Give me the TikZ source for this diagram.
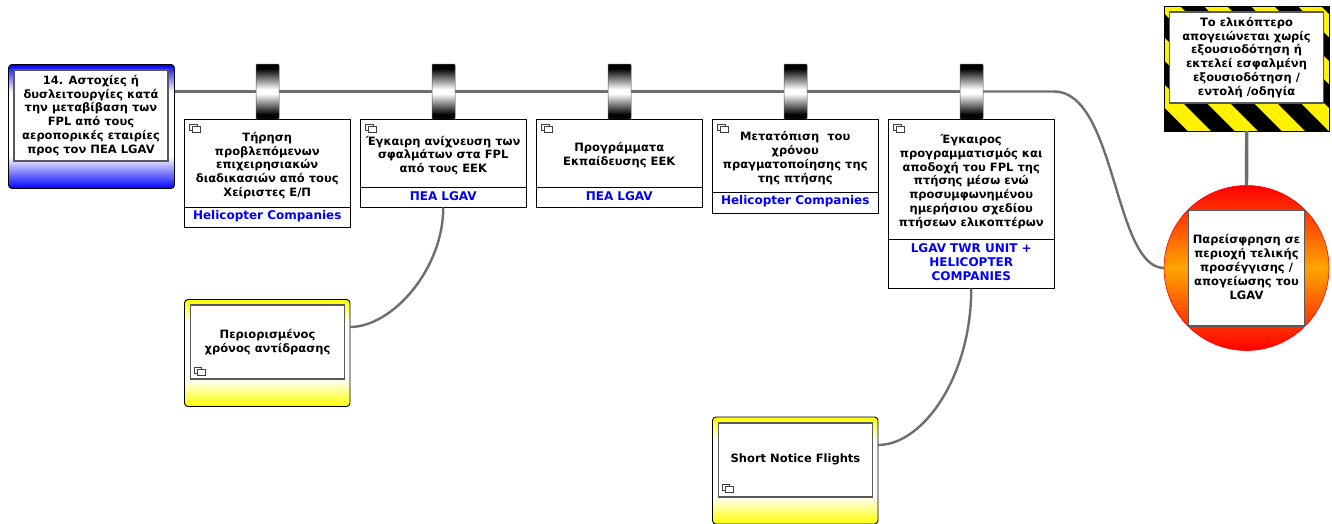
\documentclass[tikz,border=0pt]{standalone}
\usepackage{fontspec}
\setmainfont{DejaVu Sans}[BoldFont={DejaVu Sans Bold}]
\pgfdeclareverticalshading{bandblue}{100bp}{color(0bp)=(blue); color(25bp)=(blue); color(38bp)=(white); color(64bp)=(white); color(75bp)=(blue); color(100bp)=(blue)}
\pgfdeclareverticalshading{bandyellow}{100bp}{color(0bp)=(yellow); color(25bp)=(yellow); color(38bp)=(white); color(64bp)=(white); color(75bp)=(yellow); color(100bp)=(yellow)}
\pgfdeclareverticalshading{bandbar}{100bp}{color(0bp)=(black); color(29bp)=(black); color(48bp)=(white); color(52bp)=(white); color(71bp)=(black); color(100bp)=(black)}
\definecolor{linegray}{RGB}{110,110,110}
\definecolor{midorange}{RGB}{255,165,0}
\tikzset{
  x=1pt,y=-1pt,
  every node/.style={font=\fontsize{11.5}{13.9}\selectfont\bfseries,inner sep=0pt,outer sep=0pt},
  txt/.style={align=center,text=black},
  ownertxt/.style={align=center,text=blue,font=\fontsize{12}{13.9}\selectfont\bfseries},
  whitebox/.style={draw=black!65,line width=1.3pt,fill=white,anchor=north west},
  taskbox/.style={draw=black,line width=0.9pt,fill=white,anchor=north west,minimum width=165.5pt},
  outerbox/.style={draw=black,line width=0.9pt,rounded corners=3.5pt,anchor=north west,minimum width=165.5pt},
  barrier/.style={draw=black!70,line width=0.5pt,rounded corners=1pt,shading=bandbar,minimum width=23pt,minimum height=55pt,anchor=north west},
  conn/.style={draw=linegray,line width=2.4pt},
  subicon/.pic={\draw[black!75,line width=0.7pt,fill=white] (0,0) rectangle (7.5,6);\draw[black!75,line width=0.7pt,fill=white] (3,2.5) rectangle (11,8.5);}
}
\newcommand{\tasknode}[8]{% name x y bodyH ownerH textshift body owner
  \node[taskbox,minimum height=#4pt] (#1) at (#2,#3) {};
  \node[taskbox,minimum height=#5pt] (#1own) at (#1.south west) {};
  \node[txt] (#1txt) at ([yshift=-#6pt]#1.center) {#7};
  \node[ownertxt] (#1owntxt) at ([yshift=1.5pt]#1own.center) {#8};
  \pic at ([shift={(5,5)}]#1.north west) {subicon};
}
\begin{document}
\begin{tikzpicture}
\useasboundingbox (0,0) rectangle (1332,523);

% threat
\node[outerbox,shading=bandblue,minimum height=124pt,minimum width=166pt] (threat) at (8.5,64.5) {};
\node[whitebox,minimum width=154pt,minimum height=91pt] (threatin) at (14,70) {};
\node[txt] (threattxt) at (91,115.5) {14. Αστοχίες ή\\δυσλειτουργίες κατά\\την μεταβίβαση των\\FPL από τους\\αεροπορικές εταιρίες\\προς τον ΠΕΑ LGAV};

% barriers
\node[barrier] (bar1) at (256,64) {};
\node[barrier] (bar2) at (432,64) {};
\node[barrier] (bar3) at (608,64) {};
\node[barrier] (bar4) at (784,64) {};
\node[barrier] (bar5) at (960,64) {};

% tasks
\tasknode{task1}{184.5}{119}{88}{20.5}{2.5}{Τήρηση\\προβλεπόμενων\\επιχειρησιακών\\διαδικασιών από τους\\Χείριστες Ε/Π}{Helicopter Companies}
\tasknode{task2}{360.5}{119}{68}{20.5}{2.5}{Έγκαιρη ανίχνευση των\\σφαλμάτων στα FPL\\από τους ΕΕΚ}{ΠΕΑ LGAV}
\tasknode{task3}{536.5}{119}{68}{20.5}{2.5}{Προγράμματα\\Εκπαίδευσης ΕΕΚ}{ΠΕΑ LGAV}
\tasknode{task4}{712.5}{119}{73.5}{20.5}{2.5}{Μετατόπιση\ \ του\\χρόνου\\πραγματοποίησης της\\της πτήσης}{Helicopter Companies}
\tasknode{task5}{888.5}{119}{120}{49.5}{2.5}{Έγκαιρος\\προγραμματισμός και\\αποδοχή του FPL της\\πτήσης μέσω ενώ\\προσυμφωνημένου\\ημερήσιου σχεδίου\\πτήσεων ελικοπτέρων}{LGAV TWR UNIT +\\HELICOPTER\\COMPANIES}

% escalation factors
\node[outerbox,shading=bandyellow,minimum height=107pt] (esc1) at (184.5,299.5) {};
\node[whitebox,minimum width=154pt,minimum height=74pt] (esc1in) at (190.5,305) {};
\node[txt] (esc1txt) at (267.5,342) {Περιορισμένος\\χρόνος αντίδρασης};
\pic at (194,367) {subicon};

\node[outerbox,shading=bandyellow,minimum height=107pt] (esc2) at (712.5,417) {};
\node[whitebox,minimum width=154pt,minimum height=74pt] (esc2in) at (718.5,423) {};
\node[txt] (esc2txt) at (795.5,459.5) {Short Notice Flights};
\pic at (722,484) {subicon};

% hazard
\node[draw=black,line width=0.9pt,fill=yellow,anchor=north west,minimum width=165.5pt,minimum height=124.5pt] (hazard) at (1164,6.5) {};
\begin{scope}
  \clip (hazard.north west) rectangle (hazard.south east);
  \foreach \k in {-3,...,5}{
    \fill[black] ({1183+47*\k-110},-7) -- ({1206.5+47*\k-110},-7) -- ({1206.5+47*\k+40},143) -- ({1183+47*\k+40},143) -- cycle;
  }
\end{scope}
\draw[black,line width=0.9pt] (hazard.north west) rectangle (hazard.south east);
\node[whitebox,minimum width=154pt,minimum height=91pt] (hazardin) at (1169.5,12) {};
\node[txt] (hazardtxt) at (1246.5,57.5) {Το ελικόπτερο\\απογειώνεται χωρίς\\εξουσιοδότηση ή\\εκτελεί εσφαλμένη\\εξουσιοδότηση /\\εντολή /οδηγία};

% top event
\node[circle,draw=red,line width=0.6pt,top color=red,bottom color=red,middle color=midorange,minimum size=165pt] (top) at (1246.5,268) {};
\node[whitebox,minimum width=116pt,minimum height=115.5pt] (topin) at (1188.5,210.5) {};
\node[txt] (toptxt) at (1246.5,267) {Παρείσφρηση σε\\περιοχή τελικής\\προσέγγισης /\\απογείωσης του\\LGAV};

% connectors
\draw[conn] (bar1 -| threat.east) -- (bar1.west);
\draw[conn] (bar1.east) -- (bar2.west);
\draw[conn] (bar2.east) -- (bar3.west);
\draw[conn] (bar3.east) -- (bar4.west);
\draw[conn] (bar4.east) -- (bar5.west);
\draw[conn] (bar5.east) -- (bar5 -| task5.east) .. controls +(62,0) and +(-50,0) .. (top.west);
\draw[conn,line width=3.4pt] (hazard.south) -- (top.north);
\draw[conn] (task2own.south) .. controls +(0,62) and +(42,0) .. (esc1.east |- 0,327);
\draw[conn] (task5own.south) .. controls +(0,88) and +(45,0) .. (esc2.east |- 0,445);
\end{tikzpicture}
\end{document}
